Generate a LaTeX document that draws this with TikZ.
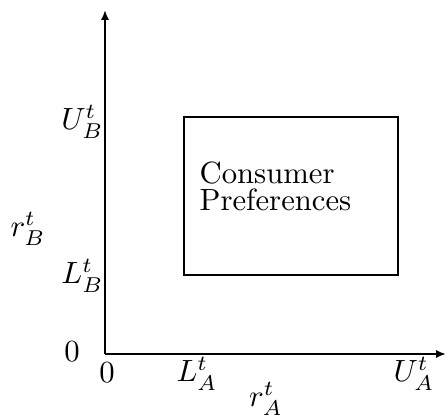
\documentclass[tikz,border=0pt]{standalone}
\usetikzlibrary{arrows.meta}
\begin{document}
\begin{tikzpicture}[x=0.3257pt,y=-0.3257pt,
  axis/.style={line width=0.6pt,-{Latex[length=3.2pt,width=2.6pt]}},
  lbl/.style={inner sep=0pt},
  prefbox/.style={draw,line width=0.5pt,inner sep=0pt}]
\useasboundingbox (0,0) rectangle (447,416);
\coordinate (O) at (105,354);
\coordinate (ytop) at (105,10);
\coordinate (xend) at (446,354);
\draw[axis] (O) -- (ytop);
\draw[axis] (O) -- (xend);
\node[prefbox,minimum width=214*0.3257pt,minimum height=158*0.3257pt] (box) at (291,196) {};
\node[lbl,anchor=north west,align=left] (txt) at (199,161) {Consumer\\[-3.2pt]Preferences};
\node[lbl,anchor=east] (UB) at (104,122) {$U_B^t$};
\node[lbl,anchor=east] (LB) at (104,276) {$L_B^t$};
\node[lbl] (rB) at (28,229) {$r_B^t$};
\node[lbl] (z1) at (72,352) {$0$};
\node[lbl] (z2) at (107,373) {$0$};
\node[lbl] (LA) at (197,374) {$L_A^t$};
\node[lbl] (UA) at (414,374) {$U_A^t$};
\node[lbl] (rA) at (266,399) {$r_A^t$};
\end{tikzpicture}
\end{document}
